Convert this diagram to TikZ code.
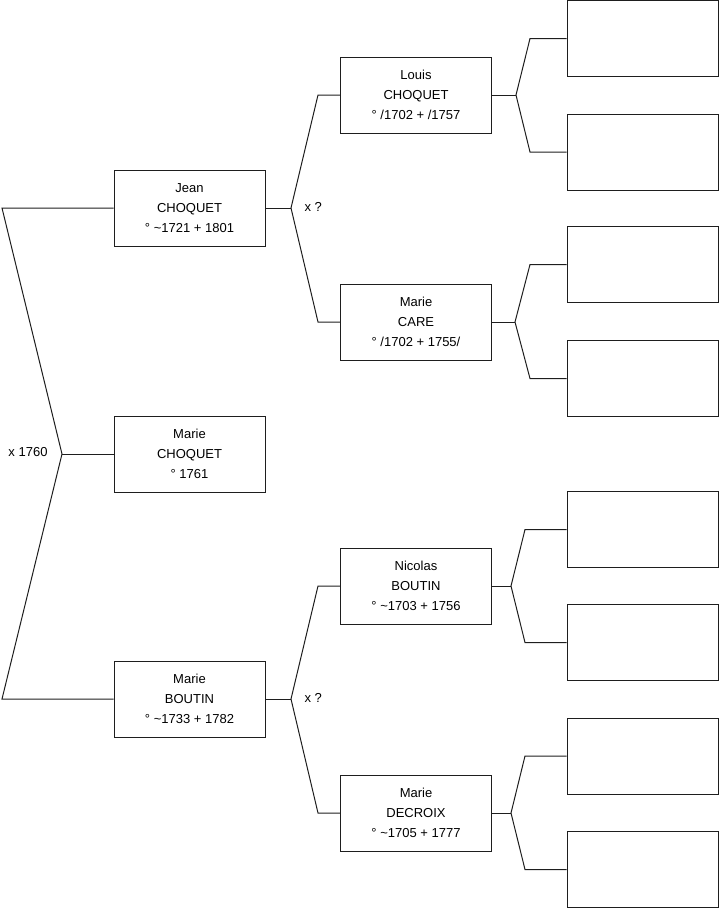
\documentclass[tikz,border=0pt]{standalone}
\usepackage{fontspec}
\setmainfont{Liberation Sans}
\begin{document}
\begin{tikzpicture}[x=1pt,y=-1pt,font=\fontsize{13}{20}\selectfont,line width=1pt]
\definecolor{ink}{HTML}{000000}\definecolor{edge}{HTML}{1E1E1E}
\tikzset{person/.style={draw=edge,minimum width=151pt,minimum height=76pt,align=center,inner sep=0pt,text=ink},
  link/.style={draw=edge},
  union/.style={anchor=west,inner sep=0pt,text=ink}}
\useasboundingbox (0,0) rectangle (719,908);
% generation 1
\node[person] (jean) at (189.5,208) {Jean\\CHOQUET\\° \textasciitilde1721 + 1801};
\node[person] (ego) at (189.5,454) {Marie\\CHOQUET\\° 1761};
\node[person] (boutin) at (189.5,699) {Marie\\BOUTIN\\° \textasciitilde1733 + 1782};
% generation 2
\node[person] (louis) at (416,95) {Louis\\CHOQUET\\° /1702 + /1757};
\node[person] (care) at (416,322) {Marie\\CARE\\° /1702 + 1755/};
\node[person] (nicolas) at (416,586) {Nicolas\\BOUTIN\\° \textasciitilde1703 + 1756};
\node[person] (decroix) at (416,813) {Marie\\DECROIX\\° \textasciitilde1705 + 1777};
% generation 3, empty
\node[person] (pa) at (642.5,38.5) {};
\node[person] (pb) at (642.5,152) {};
\node[person] (pc) at (642.5,264.5) {};
\node[person] (pd) at (642.5,378.5) {};
\node[person] (pe) at (642.5,529.5) {};
\node[person] (pf) at (642.5,642.5) {};
\node[person] (pg) at (642.5,756) {};
\node[person] (ph) at (642.5,869.5) {};
% forks
\coordinate (f0) at (62,454);
\coordinate (f0a) at (2,208);\coordinate (f0b) at (2,699);
\coordinate (f1) at (291,208);
\coordinate (f1a) at (318,95);\coordinate (f1b) at (318,322);
\coordinate (f2) at (291,699);
\coordinate (f2a) at (318,586);\coordinate (f2b) at (318,813);
\coordinate (f3) at (516,95);
\coordinate (f3a) at (530,38.5);\coordinate (f3b) at (530,152);
\coordinate (f4) at (515,322);
\coordinate (f4a) at (530,264.5);\coordinate (f4b) at (530,378.5);
\coordinate (f5) at (511,586);
\coordinate (f5a) at (525,529.5);\coordinate (f5b) at (525,642.5);
\coordinate (f6) at (511,813);
\coordinate (f6a) at (525,756);\coordinate (f6b) at (525,869.5);
\draw[link] (jean.west) -- (f0a) -- (f0) -- (f0b) -- (boutin.west);
\draw[link] (f0) -- (ego.west);
\draw[link] (jean.east) -- (f1);
\draw[link] (louis.west) -- (f1a) -- (f1) -- (f1b) -- (care.west);
\draw[link] (boutin.east) -- (f2);
\draw[link] (nicolas.west) -- (f2a) -- (f2) -- (f2b) -- (decroix.west);
\draw[link] (louis.east) -- (f3);
\draw[link] (pa.west) -- (f3a) -- (f3) -- (f3b) -- (pb.west);
\draw[link] (care.east) -- (f4);
\draw[link] (pc.west) -- (f4a) -- (f4) -- (f4b) -- (pd.west);
\draw[link] (nicolas.east) -- (f5);
\draw[link] (pe.west) -- (f5a) -- (f5) -- (f5b) -- (pf.west);
\draw[link] (decroix.east) -- (f6);
\draw[link] (pg.west) -- (f6a) -- (f6) -- (f6b) -- (ph.west);
% marriages
\node[union] (m0) at (8,452) {x 1760};
\node[union] (m1) at (304,207) {x ?};
\node[union] (m2) at (304,698) {x ?};
\end{tikzpicture}
\end{document}
